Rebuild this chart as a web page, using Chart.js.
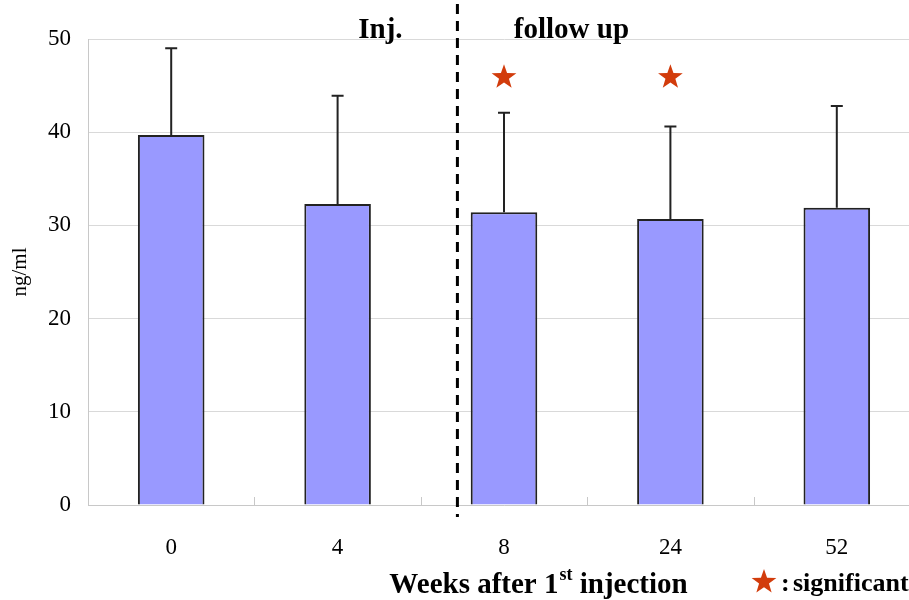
<!DOCTYPE html>
<html>
<head>
<meta charset="utf-8">
<script src="https://cdn.jsdelivr.net/npm/chart.js@4"></script>
<style>
  html, body { margin: 0; padding: 0; background: #fff; overflow: hidden; }
  #wrap { width: 920px; height: 600px; }
</style>
</head>
<body>
<div id="wrap"><canvas id="chart"></canvas></div>
<script>
// Datos
const weeks = ["0", "4", "8", "24", "52"];
const means = [39.7, 32.3, 31.4, 30.7, 31.9];
const upperErr = [49.0, 43.9, 42.1, 40.6, 42.8];
const significant = [false, false, true, true, false];
const starLevel = 45.9;
const yTicks = [0, 10, 20, 30, 40, 50];
const injLine = 1.72; // posición (índice de categoría) de la línea discontinua

const serif = "'Liberation Serif', 'DejaVu Serif', serif";

function drawStar(ctx, cx, cy, r, color) {
    ctx.save();
    ctx.beginPath();
    for (let i = 0; i < 10; i++) {
        const rad = i % 2 === 0 ? r : r * 0.4;
        const a = -Math.PI / 2 + i * Math.PI / 5;
        const px = cx + rad * Math.cos(a);
        const py = cy + rad * Math.sin(a);
        if (i === 0) ctx.moveTo(px, py); else ctx.lineTo(px, py);
    }
    ctx.closePath();
    ctx.fillStyle = color;
    ctx.fill();
    ctx.restore();
}

// Barras de error, estrellas, línea discontinua y textos
const extras = {
    id: "extras",
    afterDatasetsDraw(chart) {
        const ctx = chart.ctx;
        const x = chart.scales.x;
        const y = chart.scales.y;
        const meta = chart.getDatasetMeta(0);
        const area = chart.chartArea;

        // marcas entre categorías en el eje x
        ctx.save();
        ctx.strokeStyle = "#c8c8c8";
        ctx.lineWidth = 1;
        for (let i = 0; i < weeks.length - 1; i++) {
            const px = Math.round(x.getPixelForValue(i + 0.5)) + 0.5;
            ctx.beginPath();
            ctx.moveTo(px, area.bottom - 8);
            ctx.lineTo(px, area.bottom);
            ctx.stroke();
        }
        ctx.restore();

        // barras de error (solo hacia arriba)
        ctx.save();
        ctx.strokeStyle = "#222";
        ctx.lineWidth = 2;
        meta.data.forEach((bar, i) => {
            const top = y.getPixelForValue(upperErr[i]);
            ctx.beginPath();
            ctx.moveTo(bar.x, bar.y);
            ctx.lineTo(bar.x, top);
            ctx.moveTo(bar.x - 6, top);
            ctx.lineTo(bar.x + 6, top);
            ctx.stroke();
        });
        ctx.restore();

        // estrellas de significancia
        significant.forEach((s, i) => {
            if (s) drawStar(ctx, x.getPixelForValue(i), y.getPixelForValue(starLevel), 13, "#d23c0c");
        });

        // línea discontinua
        ctx.save();
        ctx.strokeStyle = "#000";
        ctx.lineWidth = 3;
        ctx.setLineDash([10, 7]);
        const lx = x.getPixelForValue(injLine);
        ctx.beginPath();
        ctx.moveTo(lx, 4);
        ctx.lineTo(lx, area.bottom + 12);
        ctx.stroke();
        ctx.restore();

        // textos
        ctx.save();
        ctx.fillStyle = "#000";
        ctx.textBaseline = "alphabetic";
        ctx.font = "bold 29px " + serif;
        ctx.textAlign = "center";
        ctx.fillText("Inj.", lx - 77, 38);
        ctx.fillText("follow up", lx + 114, 38);

        // título del eje x con superíndice
        const part1 = "Weeks after 1";
        const sup = "st";
        const part2 = " injection";
        ctx.font = "bold 29px " + serif;
        const w1 = ctx.measureText(part1).width;
        const w3 = ctx.measureText(part2).width;
        ctx.font = "bold 18px " + serif;
        const w2 = ctx.measureText(sup).width;
        let sx = 538 - (w1 + w2 + w3) / 2;
        ctx.textAlign = "left";
        ctx.font = "bold 29px " + serif;
        ctx.fillText(part1, sx, 593);
        ctx.font = "bold 18px " + serif;
        ctx.fillText(sup, sx + w1 + 1, 580);
        ctx.font = "bold 29px " + serif;
        ctx.fillText(part2, sx + w1 + w2 + 1, 593);

        // leyenda
        drawStar(ctx, 764, 582, 13, "#d23c0c");
        ctx.font = "bold 26px " + serif;
        ctx.fillText(":", 781, 591);
        ctx.fillText("significant", 793, 591);
        ctx.restore();
    }
};

new Chart(document.getElementById("chart"), {
    type: "bar",
    data: {
        labels: weeks,
        datasets: [{
            data: means,
            backgroundColor: "#9999ff",
            borderColor: "#222",
            borderWidth: 2,
            borderSkipped: "bottom",
            barPercentage: 0.4,
            categoryPercentage: 1.0
        }]
    },
    options: {
        responsive: true,
        maintainAspectRatio: false,
        animation: false,
        layout: { padding: { top: 39, left: 0, right: 0, bottom: 0 } },
        plugins: {
            legend: { display: false },
            tooltip: { enabled: false }
        },
        scales: {
            x: {
                grid: { display: false },
                border: { color: "#c8c8c8", width: 1 },
                ticks: {
                    color: "#000",
                    padding: 21,
                    font: { family: serif, size: 23 }
                },
                afterFit(scale) { scale.height = 95; }
            },
            y: {
                min: 0,
                max: 50,
                afterBuildTicks(scale) { scale.ticks = yTicks.map(v => ({ value: v })); },
                grid: { color: "#d9d9d9", drawTicks: false },
                border: { color: "#c8c8c8", width: 1 },
                ticks: {
                    color: "#000",
                    padding: 17,
                    font: { family: serif, size: 23 }
                },
                title: {
                    display: true,
                    text: "ng/ml",
                    color: "#000",
                    padding: { top: 8, bottom: 0 },
                    font: { family: serif, size: 21 }
                },
                afterFit(scale) { scale.width = 88; }
            }
        }
    },
    plugins: [extras]
});
</script>
</body>
</html>
